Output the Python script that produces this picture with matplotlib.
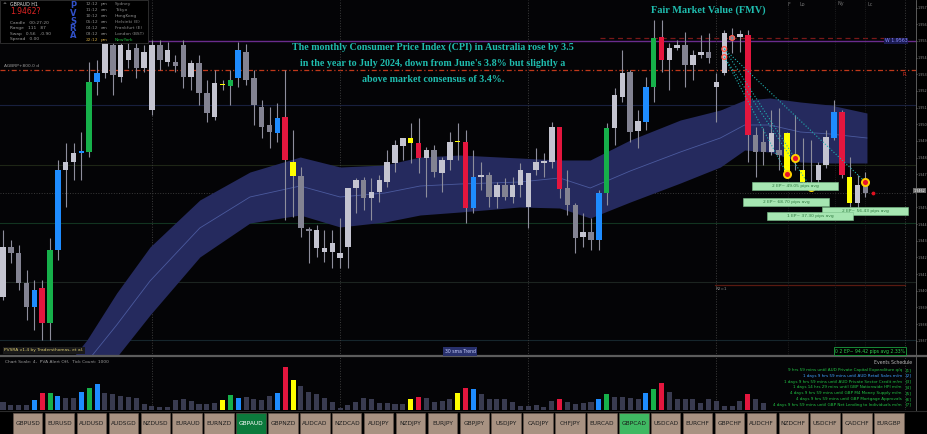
import matplotlib.pyplot as plt
from matplotlib.patches import Rectangle

# ---- candles (chart units: 0 = top of price panel) ----
kinds = ("wgggbrGbww" "bGbwgwwgww" "gwggwggwyG" "bggggbrygg" "wwwwwwgwww"
         "wwyrwgwwyr" "bwgwgwwwww" "wrggwgbGww" "gwbGrwwgww" "gwwgwrggwg"
         "ygygwwbrywg")
opens = [297, 247, 253, 283, 307, 288, 323, 250, 170, 162,
         153, 152, 82, 73, 45, 77, 60, 48, 68, 110,
         45, 62, 62, 45, 77, 63, 93, 117, 85, 86,
         78, 52, 78, 107, 125, 133, 117, 162, 176, 229,
         248, 252, 252, 258, 247, 188, 180, 198, 192, 182,
         163, 146, 143, 143, 158, 150, 173, 160, 142, 142,
         208, 177, 175, 197, 185, 197, 185, 207, 170, 163,
         162, 127, 188, 205, 237, 232, 240, 193, 128, 97,
         72, 131, 122, 87, 37, 60, 48, 45, 65, 55,
         52, 87, 73, 36, 37, 35, 135, 142, 152, 150,
         133, 158, 170, 185, 180, 165, 138, 112, 177, 203, 185]
closes = [247, 253, 283, 307, 290, 323, 250, 170, 162, 153,
          151, 82, 73, 42, 75, 45, 50, 68, 52, 45,
          60, 50, 66, 77, 63, 93, 113, 83, 84, 80,
          50, 80, 105, 127, 132, 118, 160, 176, 228, 231,
          230, 248, 243, 253, 188, 180, 198, 192, 180, 162,
          145, 138, 138, 158, 150, 172, 160, 142, 141, 208,
          177, 175, 197, 185, 197, 185, 170, 173, 162, 161,
          127, 189, 205, 238, 232, 240, 193, 128, 95, 73,
          132, 121, 87, 38, 60, 48, 45, 65, 55, 52,
          58, 82, 33, 40, 34, 135, 152, 152, 133, 155,
          175, 160, 182, 188, 165, 137, 112, 175, 203, 185, 193]
highs = [230, 240, 245, 270, 280, 280, 238, 160, 143, 143,
         132, 62, 60, 35, 40, 38, 42, 40, 45, 40,
         40, 42, 55, 40, 60, 55, 80, 70, 80, 70,
         42, 44, 70, 100, 107, 103, 70, 130, 167, 227,
         225, 230, 230, 218, 188, 178, 177, 178, 175, 150,
         140, 138, 123, 118, 147, 145, 157, 132, 123, 130,
         150, 162, 172, 182, 178, 177, 163, 173, 148, 153,
         122, 127, 170, 203, 213, 218, 190, 123, 88, 50,
         70, 110, 77, 20, 20, 43, 40, 32, 50, 35,
         33, 73, 30, 28, 30, 30, 127, 128, 110, 108,
         132, 115, 138, 140, 162, 130, 100, 110, 157, 175, 172]
lows = [300, 263, 290, 320, 330, 340, 340, 260, 207, 180,
        180, 157, 95, 78, 95, 82, 68, 78, 72, 115,
        70, 66, 72, 88, 90, 105, 122, 120, 90, 105,
        87, 85, 125, 138, 148, 142, 220, 217, 237, 263,
        257, 262, 268, 268, 268, 213, 210, 220, 202, 187,
        172, 160, 163, 173, 197, 177, 192, 170, 160, 223,
        213, 190, 207, 208, 200, 203, 197, 228, 175, 177,
        168, 198, 215, 253, 247, 250, 250, 205, 145, 102,
        142, 148, 130, 102, 72, 90, 50, 87, 80, 58,
        63, 122, 75, 53, 52, 162, 177, 165, 155, 170,
        178, 170, 183, 190, 190, 168, 140, 178, 207, 213, 197]
volume = [8, 5, 5, 5, 10, 17, 17, 14, 12, 12,
          18, 22, 26, 17, 16, 14, 13, 12, 6, 4,
          3, 3, 10, 11, 9, 6, 6, 7, 10, 15,
          12, 13, 11, 10, 14, 17, 43, 30, 24, 18,
          16, 12, 8, 2, 5, 8, 12, 11, 7, 7,
          6, 6, 11, 13, 12, 8, 9, 11, 17, 22,
          21, 16, 11, 11, 11, 8, 4, 4, 5, 3,
          9, 11, 8, 6, 7, 8, 11, 16, 13, 13,
          12, 11, 17, 21, 27, 18, 11, 11, 11, 7,
          11, 9, 4, 4, 9, 16, 11, 7]

# 30 sma trend band
band_idx = [6.6, 10.7, 14.5, 18.75, 25.1, 31.5, 37.9, 43.0, 48.7, 53.2, 58.3,
            65.9, 71.0, 74.9, 80.0, 86.4, 91.5, 94.6, 97.8, 101.7, 105.5, 110.2]
band_up = [380, 340, 293, 247, 200, 172, 157, 167, 165, 157, 155,
           158, 160, 160, 140, 120, 110, 100, 98, 102, 105, 113]
band_lo = [430, 385, 357, 315, 257, 223, 215, 227, 222, 215, 212,
           207, 208, 218, 202, 183, 167, 150, 152, 162, 163, 163]
band_mid = [405, 362, 325, 281, 228, 197, 186, 197, 193, 186, 184,
            182, 178, 188, 171, 152, 138, 125, 125, 132, 134, 138]

# markers
ring_idx = [100, 101, 103, 110]
ring_y = [174, 158, 187, 182]
hollow_idx = [92, 92, 93]
hollow_y = [49, 57, 38]

# right scale; the 1.946 slot is covered by the current price box
price_labels = ['1.957', '1.956', '1.955', '1.954', '1.953', '1.952', '1.951',
                '1.950', '1.949', '1.948', '1.947', '', '1.945', '1.944',
                '1.943', '1.942', '1.941', '1.940', '1.939', '1.938', '1.937']
current_price = '1.9462'

pairs = ['GBPUSD', 'EURUSD', 'AUDUSD', 'AUDSGD', 'NZDUSD', 'EURAUD', 'EURNZD',
         'GBPAUD', 'GBPNZD', 'AUDCAD', 'NZDCAD', 'AUDJPY', 'NZDJPY', 'EURJPY',
         'GBPJPY', 'USDJPY', 'CADJPY', 'CHFJPY', 'EURCAD', 'GBPCAD', 'USDCAD',
         'EURCHF', 'GBPCHF', 'AUDCHF', 'NZDCHF', 'USDCHF', 'CADCHF', 'EURGBP']

pip_boxes = ['2 EP~ 49.05 pips avg', '2 EP~ 68.70 pips avg',
             '2 EP~ 56.43 pips avg', '1 EP~ 37.30 pips avg']

events = ['9 hrs 59 mins until AUD Private Capital Expenditure q/q',
          '1 days 9 hrs 59 mins until AUD Retail Sales m/m',
          '1 days 9 hrs 59 mins until AUD Private Sector Credit m/m',
          '1 days 14 hrs 29 mins until GBP Nationwide HPI m/m',
          '4 days 9 hrs 59 mins until GBP M4 Money Supply m/m',
          '4 days 9 hrs 59 mins until GBP Mortgage Approvals',
          '4 days 9 hrs 59 mins until GBP Net Lending to Individuals m/m']

sessions = [('12:12', 'pm', 'Sydney'), ('11:12', 'am', 'Tokyo'),
            ('10:12', 'am', 'HongKong'), ('05:12', 'am', 'Helsinki (E)'),
            ('04:12', 'am', 'Frankfurt (E)'), ('03:12', 'am', 'London (BST)'),
            ('22:12', 'pm', 'NewYork')]

cpi_lines = ['The monthly Consumer Price Index (CPI) in Australia rose by 3.5',
             "in the year to July 2024, down from June's 3.8% but slightly a",
             'above market consensus of 3.4%.']

body_col = {'w': '#c4c4d0', 'g': '#838392', 'b': '#1e8cff', 'r': '#e4163e',
            'G': '#16b04a', 'y': '#ffff00'}
vol_col = {'w': '#393b50', 'g': '#393b50', 'b': '#1e8cff', 'r': '#e4163e',
           'G': '#16b04a', 'y': '#ffff00'}

W, H = 927, 434
fig = plt.figure(figsize=(W / 100, H / 100), dpi=100)
fig.patch.set_facecolor('#000000')

x0, step = 3, 7.84
xl = (-x0 / step, (916 - x0) / step)

# ---------------- price panel ----------------
ax = fig.add_axes([0, (H - 356) / H, 916 / W, 356 / H])
ax.set_facecolor('#040406')
ax.set_xlim(*xl)
ax.set_ylim(356, 0)

ax.fill_between(band_idx, band_up, band_lo, color='#252a5e', lw=0, zorder=1)
ax.plot(band_idx, band_mid, color='#4b5a9e', lw=0.6, zorder=1.5)

for y, c, ls, lw in [(41, '#6a2c8c', '-', 1.0), (70, '#c0381a', (0, (4, 2, 1, 2)), 0.9),
                     (105, '#18203e', '-', 0.8), (165, '#1e2616', '-', 0.8),
                     (193, '#3a3a3a', ':', 0.7), (223, '#123420', '-', 0.8),
                     (282, '#1c2420', '-', 0.8), (340, '#16262c', '-', 0.8)]:
    ax.axhline(y, color=c, ls=ls, lw=lw, zorder=0.5)
ax.plot([(600 - x0) / step, (905 - x0) / step], [37.5, 37.5], color='#7a1818',
        ls=(0, (4, 3)), lw=0.9, zorder=0.5)
ax.plot([(715 - x0) / step, (905 - x0) / step], [285, 285], color='#5a1a10',
        lw=0.9, zorder=0.5)
for px in [152, 340, 528, 716, 905]:
    ax.axvline((px - x0) / step, color='#3c3c3c', ls=':', lw=0.7, zorder=0.5)
for px in [788, 835, 865]:
    ax.axvline((px - x0) / step, color='#262626', ls=':', lw=0.6, zorder=0.5)

n = len(opens)
for i in range(n):
    k = kinds[i]
    ax.vlines(i, highs[i], lows[i], color='#8e8e9c', lw=0.8, zorder=2)
    lo, hi = min(opens[i], closes[i]), max(opens[i], closes[i])
    ax.bar(i, max(hi - lo, 1.3), bottom=lo, width=0.7, color=body_col[k],
           lw=0, zorder=3)

# FMV projection lines
ax.plot([92, 110], [49, 182], color='#20b0b0', ls=':', lw=0.8, zorder=4)
ax.plot([92, 101], [49, 158], color='#20b0b0', ls=':', lw=0.8, zorder=4)
ax.plot([92, 100], [57, 174], color='#20b0b0', ls=':', lw=0.8, zorder=4)
ax.plot([92, 103], [57, 187], color='#20b0b0', ls=':', lw=0.8, zorder=4)
ax.scatter(ring_idx, ring_y, s=26, c='#e8102e', edgecolors='#ffd000',
           linewidths=1.4, zorder=6)
ax.scatter(hollow_idx, hollow_y, s=12, facecolors='none', edgecolors='#ff5a4a',
           linewidths=0.9, zorder=6)
ax.scatter([111], [193], s=3, c='#e01020', zorder=6)

tick_pos = [7.7 + 16.65 * k for k in range(len(price_labels))]
ax.yaxis.tick_right()
ax.set_yticks(tick_pos)
ax.set_yticklabels(price_labels)
ax.tick_params(axis='y', colors='#8a8a8a', labelsize=2.4, length=0.8, pad=0.3, width=0.5)
ax.set_xticks([])
for s in ['top', 'left', 'bottom']:
    ax.spines[s].set_visible(False)
ax.spines['right'].set_color('#6a6a6a')
ax.spines['right'].set_linewidth(0.6)

# ---------------- volume panel ----------------
av = fig.add_axes([0, (H - 410) / H, 916 / W, 53 / H])
av.set_facecolor('#040406')
av.set_xlim(*xl)
av.set_ylim(0, 53)
av.bar(range(len(volume)), volume, width=0.64,
       color=[vol_col[kinds[i]] for i in range(len(volume))], lw=0)
for px in [152, 340, 528, 716, 905]:
    av.axvline((px - x0) / step, color='#3c3c3c', ls=':', lw=0.7, zorder=0)
av.set_xticks([])
av.set_yticks([])
for s in ['top', 'left', 'bottom']:
    av.spines[s].set_visible(False)
av.spines['right'].set_color('#6a6a6a')
av.spines['right'].set_linewidth(0.6)

# ---------------- overlay (labels, boxes, buttons) ----------------
ov = fig.add_axes([0, 0, 1, 1])
ov.set_xlim(0, W)
ov.set_ylim(H, 0)
ov.axis('off')
ov.patch.set_alpha(0)

ov.plot([0, W], [356, 356], color='#5c5c5c', lw=1.6)
ov.plot([0, W], [411, 411], color='#2a2a2a', lw=0.8)

# top-left info block
ov.add_patch(Rectangle((0, 0), 148, 43, fc='#000000', ec='#333333', lw=0.6))
ov.text(3, 4, '^  GBPAUD H1', color='#e0e0e0', fontsize=3.4, va='center')
ov.text(10, 12, '1.9462?', color='#e02424', fontsize=5.5, va='center')
for j, t in enumerate(['Candle   00:27:20', 'Range   111   87',
                       'Swap   0.56   -0.90', 'Spread   0.00']):
    ov.text(10, 23 + 5.3 * j, t, color='#9a9a9a', fontsize=3.2, va='center')
for j, ch in enumerate('PVSRA'):
    ov.text(73, 6 + 7.5 * j, ch, color='#3050c8', fontsize=6, fontweight='bold',
            ha='center', va='center')
for j, (t, ap, city) in enumerate(sessions):
    last = j == len(sessions) - 1
    yy = 4 + 6 * j
    ov.text(86, yy, t, color='#c8a040' if last else '#8a8a8a', fontsize=3.2, va='center')
    ov.text(101, yy, ap, color='#c8a040' if last else '#8a8a8a', fontsize=3.2, va='center')
    ov.text(115, yy, city, color='#20c040' if last else '#8a8a8a', fontsize=3.2, va='center')

ov.text(4, 66, 'AGBRP+800.0 d', color='#9a9a9a', fontsize=3.2, va='center')
ov.text(903, 74, 'R', color='#e03020', fontsize=4, va='center')
ov.text(716, 289, 'R2=1', color='#8a8a8a', fontsize=3, va='center')
for px, t in [(788, 'F'), (800, 'Lo'), (838, 'Ny'), (868, 'Lc')]:
    ov.text(px, 4, t, color='#707070', fontsize=3.5, va='center')

ov.text(896, 41, 'W 1.9563', color='#8a8aff', fontsize=3.4, ha='center', va='center',
        bbox=dict(boxstyle='square,pad=0.2', fc='#1a1a50', ec='none'))
ov.text(925.5, tick_pos[11], current_price, color='#ffffff', fontsize=2.4, ha='right',
        va='center', bbox=dict(boxstyle='square,pad=0.15', fc='#6a6a6a', ec='none'))

# news text
for j, t in enumerate(cpi_lines):
    ov.text(433, 47 + 16.5 * j, t, color='#1fbcae', fontsize=7.2, ha='center',
            va='center', family='Liberation Serif', fontweight='bold')
ov.text(708, 10, 'Fair Market Value (FMV)', color='#1fbcae', fontsize=7.4,
        ha='center', va='center', family='Liberation Serif', fontweight='bold')

# pip boxes
for (bx, by), t in zip([(752, 182), (743, 198), (822, 207), (767, 212)], pip_boxes):
    ov.add_patch(Rectangle((bx, by), 86, 7.5, fc='#a6e6b2', ec='#7ac08a', lw=0.4, zorder=5))
    ov.text(bx + 43, by + 3.9, t, color='#2f7a40', fontsize=3.2, ha='center',
            va='center', zorder=6)

# bottom labels of price panel
ov.text(4, 350.5, 'PVSRA v1.4 by Tradersthomas, et al.', color='#d8c870', fontsize=3.2,
        va='center', bbox=dict(boxstyle='square,pad=0.3', fc='#1a1a1a', ec='none'))
ov.text(460, 351.5, '30 sma Trend', color='#c8d0ff', fontsize=3.3, ha='center', va='center',
        bbox=dict(boxstyle='square,pad=0.4', fc='#28306c', ec='none'))
ov.text(870, 351, '0 2 EP~ 94.42 pips avg 2.33%', color='#30d050', fontsize=3.3,
        ha='center', va='center',
        bbox=dict(boxstyle='square,pad=0.3', fc='#000000', ec='#1ca040', lw=0.6))

# indicator panel texts
ov.text(5, 362, 'Chart Scale: 4,  PVA Alert Off,  Tick Count: 1000', color='#9a9a9a',
        fontsize=3.2, va='center')
ov.text(912, 363, 'Events Schedule', color='#b8b8b8', fontsize=3.3, ha='right', va='center')
for j, t in enumerate(events):
    col = '#3fa0ff' if j == 1 else '#22c444'
    yy = 370 + 5.8 * j
    ov.text(902, yy, t, color=col, fontsize=3.0, ha='right', va='center')
    ov.text(906, yy, '[%d]' % (j + 1), color=col, fontsize=3.0, va='center')

# pair buttons
for k, p in enumerate(pairs):
    bx = 13 + 31.9 * k
    if p == 'GBPAUD':
        fc, tc = '#0c7a3c', '#ffffff'
    elif p == 'GBPCAD':
        fc, tc = '#3fb862', '#1a1a1a'
    else:
        fc, tc = '#a89282', '#1e1e1e'
    ov.add_patch(Rectangle((bx, 413), 29.5, 21, fc=fc, ec='#6a5a50', lw=0.4))
    ov.text(bx + 14.75, 423.5, p, color=tc, fontsize=4.2, ha='center', va='center')

fig.savefig('out.png', dpi=100, facecolor=fig.get_facecolor())
